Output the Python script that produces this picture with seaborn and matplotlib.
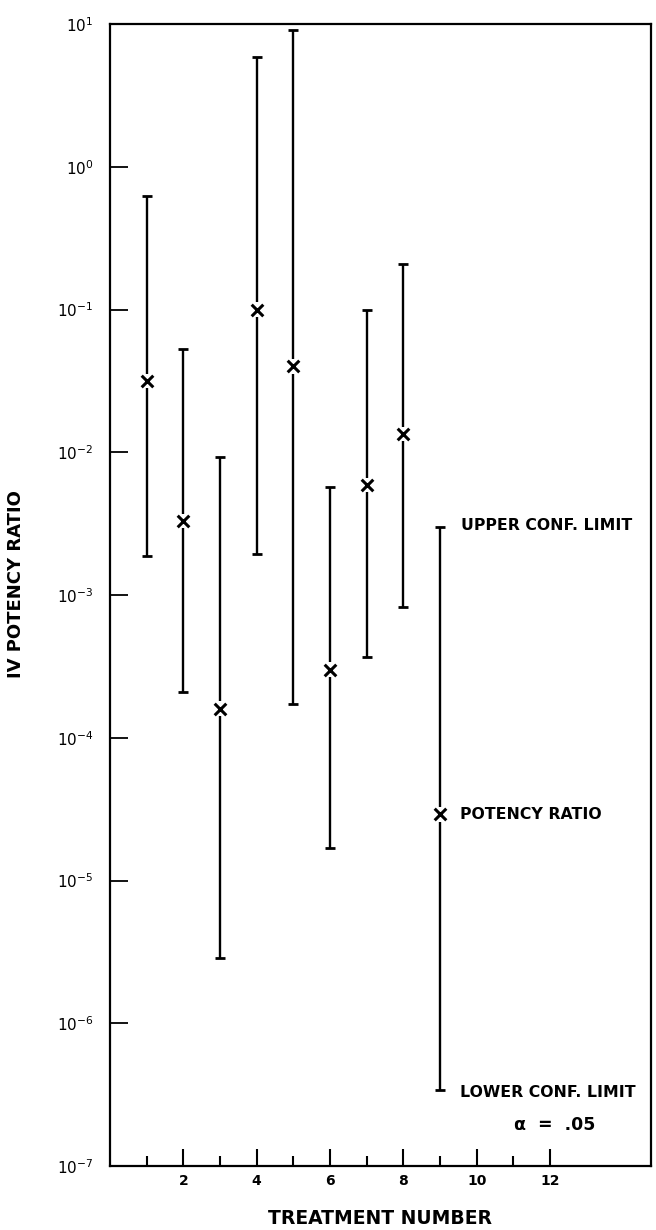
import matplotlib
matplotlib.use("Agg")
import pandas as pd
import matplotlib.pyplot as plt
from matplotlib.ticker import NullLocator
import seaborn as sns

# potency ratio per treatment with 95% confidence limits
treatment = [1, 2, 3, 4, 5, 6, 7, 8]
potency_ratio = [3.15e-2, 3.3e-3, 1.6e-4, 1.0e-1, 4.0e-2, 3.0e-4, 5.9e-3, 1.34e-2]
upper_limit = [0.62, 5.3e-2, 9.2e-3, 5.9, 9.1, 5.7e-3, 0.10, 0.21]
lower_limit = [1.87e-3, 2.1e-4, 2.85e-6, 1.93e-3, 1.72e-4, 1.7e-5, 3.66e-4, 8.3e-4]

# key (explanation bar)
key_x = [9]
key_ratio = [2.9e-5]
key_upper = [3.0e-3]
key_lower = [3.4e-7]

y_ticks = [1e-7, 1e-6, 1e-5, 1e-4, 1e-3, 1e-2, 1e-1, 1e0, 1e1]

df = pd.DataFrame({
    "treatment": treatment + key_x,
    "ratio": potency_ratio + key_ratio,
    "upper": upper_limit + key_upper,
    "lower": lower_limit + key_lower,
})

sns.set_style("ticks")
plt.rcParams["font.family"] = ["DejaVu Sans"]
for k in ["text.color", "axes.labelcolor", "xtick.color", "ytick.color"]:
    plt.rcParams[k] = "black"

fig = plt.figure(figsize=(6.56, 12.3), dpi=100)
ax = fig.add_axes([110 / 656, 1 - 1166 / 1230, 541 / 656, 1142 / 1230])

ax.set_yscale("log")
ax.set_yticks(y_ticks)
ax.yaxis.set_minor_locator(NullLocator())
ax.set_ylim(1e-7, 1e1)
ax.set_xlim(0, 14.75)

# confidence interval bars
ax.errorbar(df["treatment"], df["ratio"],
            yerr=[df["ratio"] - df["lower"], df["upper"] - df["ratio"]],
            fmt="none", ecolor="black", elinewidth=1.7, capsize=3.8, capthick=2,
            zorder=2)
# small white gap behind the x marks
sns.scatterplot(data=df, x="treatment", y="ratio", marker="s", s=110,
                color="white", edgecolor="none", ax=ax, zorder=3, legend=False)
sns.scatterplot(data=df, x="treatment", y="ratio", marker="x", s=70,
                color="black", linewidth=2.2, ax=ax, zorder=4, legend=False)

# key labels
lab = dict(fontsize=11.3, fontweight="bold", textcoords="offset points",
           va="center", ha="left")
ax.annotate("UPPER CONF. LIMIT", (key_x[0], key_upper[0]), xytext=(15, 1), **lab)
ax.annotate("POTENCY RATIO", (key_x[0], key_ratio[0]), xytext=(14, 0), **lab)
ax.annotate("LOWER CONF. LIMIT", (key_x[0], key_lower[0]), xytext=(14, -2), **lab)
ax.annotate("α  =  .05", (key_x[0], key_lower[0]), xytext=(53, -25),
            textcoords="offset points", fontsize=12.5, fontweight="bold",
            va="center", ha="left")

# axes / ticks
ax.set_xticks(range(2, 13, 2))
ax.set_xticks([1, 3, 5, 7, 9, 11], minor=True)

ax.tick_params(axis="y", which="major", direction="in", length=13, width=1.3,
               labelsize=11, pad=12, right=False)
ax.tick_params(axis="x", which="major", direction="in", length=12, width=1.5,
               labelsize=10, pad=6, top=False)
ax.tick_params(axis="x", which="minor", direction="in", length=7, width=1.5,
               top=False)
for t in ax.get_xticklabels():
    t.set_fontweight("bold")

for sp in ax.spines.values():
    sp.set_linewidth(1.6)
    sp.set_color("black")

ax.set_xlabel("TREATMENT NUMBER", fontsize=13.5, fontweight="bold")
ax.set_ylabel("IV POTENCY RATIO", fontsize=13, fontweight="bold")
ax.xaxis.set_label_coords(0.5, -0.038)
ax.yaxis.set_label_coords(-0.157, 0.51)

fig.savefig("out.png", dpi=100)
